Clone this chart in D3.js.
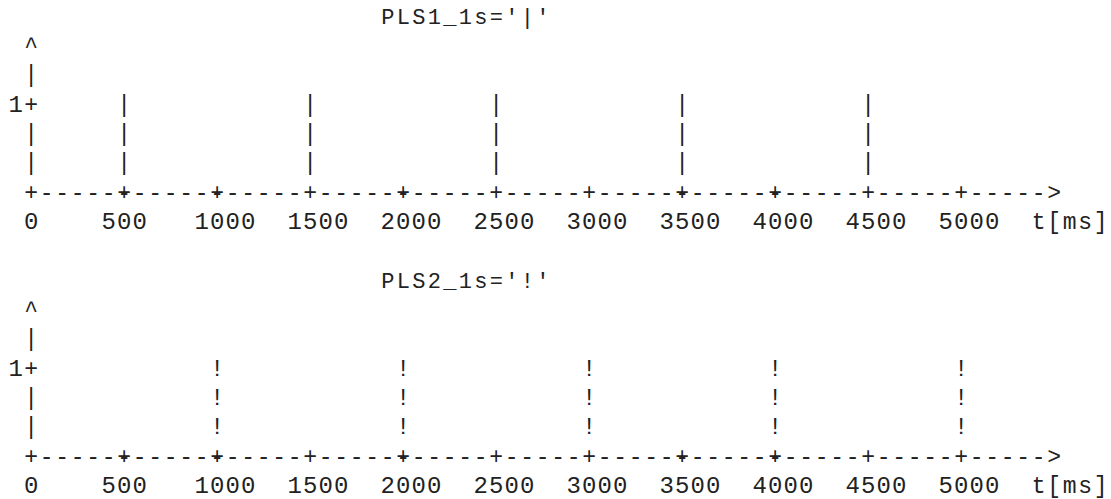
<!DOCTYPE html>
<html lang="en">
<head>
<meta charset="utf-8" />
<title>PLS1 / PLS2 pulse trains (ASCII plot)</title>
<script src="https://d3js.org/d3.v7.min.js"></script>
<style>
  body { margin: 0; background: #ffffff; }
  svg  { display: block; }
  text { font-family: "Liberation Mono", "Courier New", monospace; font-size: 23px; fill: #222; text-anchor: middle; }
  text.num { font-size: 24px; }
  text.title { font-size: 22px; }
</style>
</head>
<body>
<svg id="chart" width="1111" height="499"></svg>
<script>
// ---- data ----
const tickValues  = [0, 500, 1000, 1500, 2000, 2500, 3000, 3500, 4000, 4500, 5000];
const titles      = ["PLS1_1s='|'", "PLS2_1s='!'"];
const pulseChars  = ["|", "!"];
const pulsesPLS1  = [500, 1500, 2500, 3500, 4500];
const pulsesPLS2  = [1000, 2000, 3000, 4000, 5000];
const pulseLevel  = 1;
const xUnit       = "t[ms]";

// ---- character grid ----
const colW = 15.5, rowH = 29.35, left = 8, base0 = 23.5;
const px = c => left + colW * (c + 0.5);
const py = r => base0 + rowH * r;

// time -> column, level -> row offset within a panel
const x = d3.scaleLinear().domain([0, 5000]).range([1, 61]);
const y = d3.scaleLinear().domain([0, 1]).range([6, 3]);

const svg = d3.select("#chart");

function panel(r0, title, ch, times) {
  const g = svg.append("g");
  const cells = [];
  const put = (r, c, s, cls) => [...s].forEach((k, i) => cells.push({ r: r0 + r, c: c + i, k, cls }));

  put(0, 24, title, "title");
  put(1, 1, "^");
  // y axis column
  d3.range(2, y(0)).forEach(r => put(r, 1, r === y(pulseLevel) ? "+" : "|"));
  put(y(pulseLevel), 0, "1", "num");

  // x axis: + at ticks, dashes between, arrow at end
  const c0 = x(0), cEnd = x(5000) + 6;
  d3.range(c0, cEnd).forEach(c => put(y(0), c, "-"));
  tickValues.forEach(t => put(y(0), x(t), "+"));
  put(y(0), cEnd, ">");

  // tick labels (0 sits under the origin, others start one column left)
  tickValues.forEach(t => put(y(0) + 1, t === 0 ? x(t) : x(t) - 1, String(t), "num"));
  put(y(0) + 1, x(5000) + 5, xUnit);

  // pulses
  times.forEach(t => d3.range(y(pulseLevel), y(0)).forEach(r => put(r, x(t), ch)));

  // later entries override earlier ones in the same cell
  const grid = new Map();
  cells.forEach(d => grid.set(d.r + ":" + d.c, d));

  g.selectAll("text")
    .data([...grid.values()])
    .enter().append("text")
      .attr("class", d => d.cls || null)
      .attr("x", d => px(d.c))
      .attr("y", d => py(d.r))
      .text(d => d.k);
}

panel(0, titles[0], pulseChars[0], pulsesPLS1);
panel(9, titles[1], pulseChars[1], pulsesPLS2);
</script>
</body>
</html>
